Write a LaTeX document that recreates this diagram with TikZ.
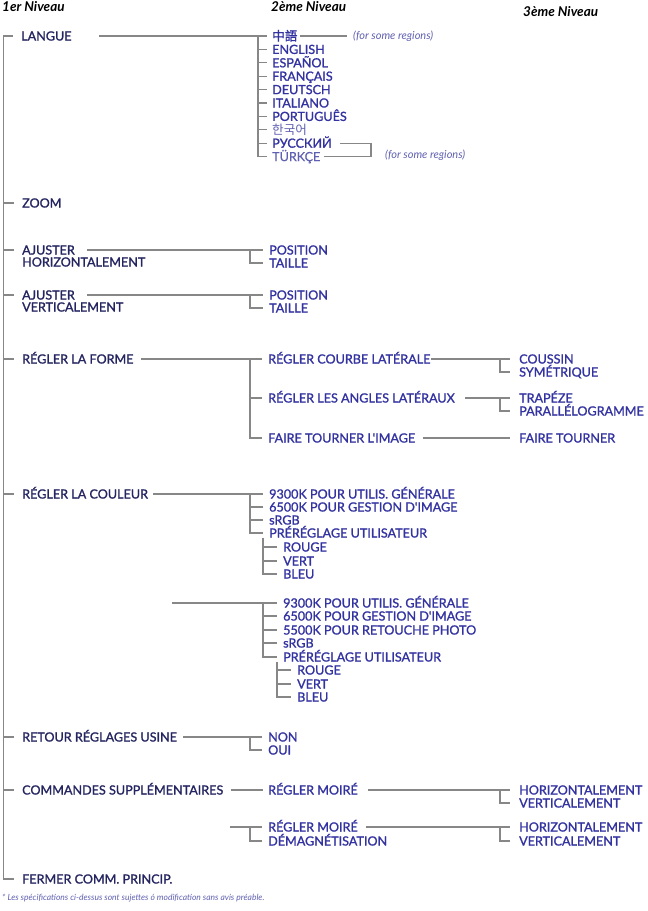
\documentclass[tikz,border=0pt]{standalone}
\usepackage{fontspec}
\setmainfont{Lato}
\newfontfamily\menufont{Lato}[FakeBold=1.3]
\newfontfamily\thinfont{Lato}[FakeBold=0.4]
\newfontfamily\cjkfont{Noto Sans CJK TC}[FakeBold=1.3]
\newfontfamily\krfont{Noto Sans CJK KR}
\definecolor{navy}{RGB}{36,36,96}
\definecolor{menublue}{RGB}{50,50,160}
\definecolor{paleblue}{RGB}{96,96,178}
\definecolor{linegray}{RGB}{135,135,135}

\begin{document}
\begin{tikzpicture}[x=1pt,y=-1pt,
    lvl/.style={anchor=west,inner sep=0pt,text height=9pt,text depth=0pt,font=\menufont\fontsize{12.6}{14}\selectfont},
    one/.style={lvl,text=navy},
    two/.style={lvl,text=menublue},
    pale/.style={lvl,text=paleblue,font=\thinfont\fontsize{12.6}{14}\selectfont},
    head/.style={anchor=west,inner sep=0pt,font=\fontsize{13.5}{15}\selectfont\bfseries\itshape},
    note/.style={anchor=west,inner sep=0pt,text=paleblue,font=\fontsize{11}{13}\selectfont\itshape},
    link/.style={draw=linegray,line width=1.1pt}]
    \useasboundingbox (0,0) rectangle (648,911);

    \node[head] (n1) at (2,7) {1er Niveau};
    \node[head] (n2) at (271,7) {2ème Niveau};
    \node[head] (n3) at (523,12) {3ème Niveau};

    \node[one] (langue) at (21,36) {LANGUE};
    \node[one] (zoom) at (22,203) {ZOOM};
    \node[one] (ajh) at (22,250) {AJUSTER};
    \node[one] (ajh2) at (22,262) {HORIZONTALEMENT};
    \node[one] (ajv) at (22,295) {AJUSTER};
    \node[one] (ajv2) at (22,307) {VERTICALEMENT};
    \node[one] (forme) at (22,359) {RÉGLER LA FORME};
    \node[one] (couleur) at (22,494) {RÉGLER LA COULEUR};
    \node[one] (retour) at (22,737) {RETOUR RÉGLAGES USINE};
    \node[one] (cmd) at (22,790) {COMMANDES SUPPLÉMENTAIRES};
    \node[one] (fermer) at (22,879) {FERMER COMM. PRINCIP.};

    \node[two] (zh) at (272,36) {\cjkfont 中語};
    \node[two] (en) at (272,49.4) {ENGLISH};
    \node[two] (es) at (272,62.8) {ESPAÑOL};
    \node[two] (fr) at (272,76.2) {FRANÇAIS};
    \node[two] (de) at (272,89.6) {DEUTSCH};
    \node[two] (it) at (272,103) {ITALIANO};
    \node[two] (pt) at (272,116.4) {PORTUGUÊS};
    \node[pale] (ko) at (272,129.8) {\krfont 한국어};
    \node[two] (ru) at (272,143.2) {РУССКИЙ};
    \node[pale] (tr) at (272,156.6) {TÜRKÇE};
    \node[note] (reg1) at (353,36) {(for some regions)};
    \node[note] (reg2) at (385,155) {(for some regions)};

    \node[two] (posh) at (269,250) {POSITION};
    \node[two] (tailh) at (269,263) {TAILLE};
    \node[two] (posv) at (269,295) {POSITION};
    \node[two] (tailv) at (269,308) {TAILLE};

    \node[two] (courbe) at (268,359) {RÉGLER COURBE LATÉRALE};
    \node[two] (angles) at (268,398) {RÉGLER LES ANGLES LATÉRAUX};
    \node[two] (image) at (268,438) {FAIRE TOURNER L'IMAGE};
    \node[two] (coussin) at (519,359) {COUSSIN};
    \node[two] (sym) at (519,372) {SYMÉTRIQUE};
    \node[two] (trap) at (519,398) {TRAPÉZE};
    \node[two] (para) at (519,411) {PARALLÉLOGRAMME};
    \node[two] (tourner) at (519,438) {FAIRE TOURNER};

    \node[two] (ka) at (269,494) {9300K POUR UTILIS. GÉNÉRALE};
    \node[two] (kb) at (269,507) {6500K POUR GESTION D'IMAGE};
    \node[two] (srgb) at (269,520) {sRGB};
    \node[two] (pre) at (269,533) {PRÉRÉGLAGE UTILISATEUR};
    \node[two] (rouge) at (283,547) {ROUGE};
    \node[two] (vert) at (283,561) {VERT};
    \node[two] (bleu) at (283,574) {BLEU};

    \coordinate (start2) at (172,603);
    \node[two] (ka2) at (283,603) {9300K POUR UTILIS. GÉNÉRALE};
    \node[two] (kb2) at (283,616) {6500K POUR GESTION D'IMAGE};
    \node[two] (kc2) at (283,630) {5500K POUR RETOUCHE PHOTO};
    \node[two] (srgb2) at (283,643) {sRGB};
    \node[two] (pre2) at (283,657) {PRÉRÉGLAGE UTILISATEUR};
    \node[two] (rouge2) at (297,670) {ROUGE};
    \node[two] (vert2) at (297,684) {VERT};
    \node[two] (bleu2) at (297,697) {BLEU};

    \node[two] (non) at (268,737) {NON};
    \node[two] (oui) at (268,750) {OUI};

    \node[two] (moire) at (268,790) {RÉGLER MOIRÉ};
    \node[two] (horiz) at (519,790) {HORIZONTALEMENT};
    \node[two] (verti) at (519,803) {VERTICALEMENT};
    \coordinate (start3) at (230,827);
    \node[two] (moire2) at (268,827) {RÉGLER MOIRÉ};
    \node[two] (demag) at (268,841) {DÉMAGNÉTISATION};
    \node[two] (horiz2) at (519,827) {HORIZONTALEMENT};
    \node[two] (verti2) at (519,841) {VERTICALEMENT};

    \node[note,font=\fontsize{8.5}{10}\selectfont\itshape] (foot) at (2,898) {* Les spécifications ci-dessus sont sujettes ó modification sans avis préable.};

    \coordinate (trunk) at (3.5,0);
    \coordinate (bl) at (258,0);
    \coordinate (bm) at (250,0);
    \coordinate (bs) at (263,0);
    \coordinate (bt) at (277,0);
    \coordinate (bx) at (500,0);
    \coordinate (br) at (371,0);

    \draw[link,shorten <=8pt,shorten >=8pt] (langue.west) -- (langue.west -| trunk) -- (fermer.west -| trunk) -- (fermer.west);
    \foreach \n in {zoom,ajh,ajv,forme,couleur,retour,cmd}
      \draw[link,shorten <=8pt] (\n.west) -- (\n.west -| trunk);

    \draw[link,shorten <=27pt,shorten >=5pt] (langue.east) -- (zh.west);
    \draw[link,shorten >=5pt] (zh.west -| bl) -- (tr.west -| bl) -- (tr.west);
    \foreach \n in {en,es,fr,de,it,pt,ko,ru}
      \draw[link,shorten <=5pt] (\n.west) -- (\n.west -| bl);
    \draw[link,shorten <=2pt,shorten >=6pt] (zh.east) -- (reg1.west);
    \draw[link,shorten <=8pt,shorten >=3pt] (ru.east) -- (ru.east -| br) -- (tr.east -| br) -- (tr.east);

    \draw[link,shorten <=12pt,shorten >=6pt] (ajh.east) -- (posh.west);
    \draw[link,shorten >=6pt] (posh.west -| bm) -- (tailh.west -| bm) -- (tailh.west);
    \draw[link,shorten <=12pt,shorten >=6pt] (ajv.east) -- (posv.west);
    \draw[link,shorten >=6pt] (posv.west -| bm) -- (tailv.west -| bm) -- (tailv.west);

    \draw[link,shorten <=7pt,shorten >=6pt] (forme.east) -- (courbe.west);
    \draw[link,shorten >=6pt] (courbe.west -| bm) -- (image.west -| bm) -- (image.west);
    \draw[link,shorten <=6pt] (angles.west) -- (angles.west -| bm);
    \draw[link,shorten >=9pt] (courbe.east) -- (coussin.west);
    \draw[link,shorten >=9pt] (coussin.west -| bx) -- (sym.west -| bx) -- (sym.west);
    \draw[link,shorten <=10pt,shorten >=9pt] (angles.east) -- (trap.west);
    \draw[link,shorten >=9pt] (trap.west -| bx) -- (para.west -| bx) -- (para.west);
    \draw[link,shorten <=8pt,shorten >=9pt] (image.east) -- (tourner.west);

    \draw[link,shorten <=5pt,shorten >=6pt] (couleur.east) -- (ka.west);
    \draw[link,shorten >=6pt] (ka.west -| bm) -- (pre.west -| bm) -- (pre.west);
    \foreach \n in {kb,srgb}
      \draw[link,shorten <=6pt] (\n.west) -- (\n.west -| bm);
    \draw[link,shorten >=6pt] (pre.south -| bs) -- (bleu.west -| bs) -- (bleu.west);
    \foreach \n in {rouge,vert}
      \draw[link,shorten <=6pt] (\n.west) -- (\n.west -| bs);

    \draw[link,shorten >=6pt] (start2) -- (ka2.west);
    \draw[link,shorten >=6pt] (ka2.west -| bs) -- (pre2.west -| bs) -- (pre2.west);
    \foreach \n in {kb2,kc2,srgb2}
      \draw[link,shorten <=6pt] (\n.west) -- (\n.west -| bs);
    \draw[link,shorten >=6pt] (pre2.south -| bt) -- (bleu2.west -| bt) -- (bleu2.west);
    \foreach \n in {rouge2,vert2}
      \draw[link,shorten <=6pt] (\n.west) -- (\n.west -| bt);

    \draw[link,shorten <=6pt,shorten >=6pt] (retour.east) -- (non.west);
    \draw[link,shorten >=6pt] (non.west -| bm) -- (oui.west -| bm) -- (oui.west);

    \draw[link,shorten <=8pt,shorten >=5pt] (cmd.east) -- (moire.west);
    \draw[link,shorten <=10pt,shorten >=9pt] (moire.east) -- (horiz.west);
    \draw[link,shorten >=9pt] (horiz.west -| bx) -- (verti.west -| bx) -- (verti.west);
    \draw[link,shorten >=6pt] (start3) -- (moire2.west);
    \draw[link,shorten >=6pt] (moire2.west -| bm) -- (demag.west -| bm) -- (demag.west);
    \draw[link,shorten <=8pt,shorten >=9pt] (moire2.east) -- (horiz2.west);
    \draw[link,shorten >=9pt] (horiz2.west -| bx) -- (verti2.west -| bx) -- (verti2.west);
\end{tikzpicture}
\end{document}
